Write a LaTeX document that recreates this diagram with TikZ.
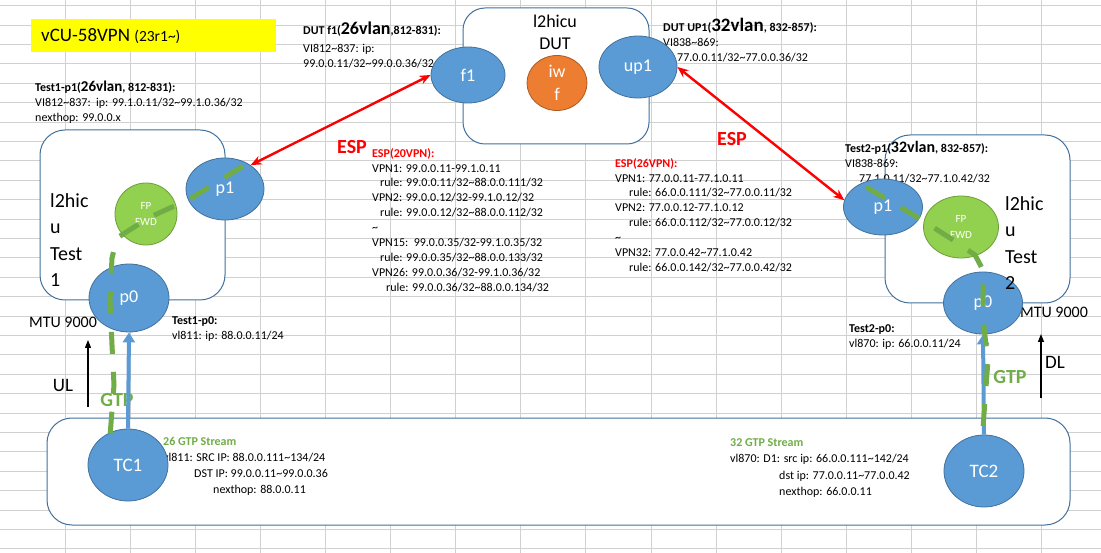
\documentclass[tikz,border=0pt]{standalone}
\usepackage{fontspec}
\setmainfont{Carlito}
\usetikzlibrary{shapes.geometric,arrows.meta}

\definecolor{gridgray}{HTML}{D0D0D0}
\definecolor{boxedge}{HTML}{41719C}
\definecolor{portblue}{HTML}{5B9BD5}
\definecolor{portedge}{HTML}{41719C}
\definecolor{fpgreen}{HTML}{92D050}
\definecolor{fpedge}{HTML}{6E9E3A}
\definecolor{iwforange}{HTML}{ED7D31}
\definecolor{iwfedge}{HTML}{AE5A21}
\definecolor{gtpgreen}{HTML}{70AD47}
\definecolor{espred}{HTML}{FF0000}
\definecolor{titleyellow}{HTML}{FFFF00}

\newcommand{\tlde}{\textasciitilde}
\newcommand{\fsz}[1]{\fontsize{#1}{#1}\selectfont}

\begin{document}
\begin{tikzpicture}[x=1pt,y=-1pt,
    gridline/.style={draw=gridgray,line width=0.9pt},
    groupbox/.style={draw=boxedge,fill=white,line width=1pt,rounded corners=25pt},
    port/.style={ellipse,draw=portedge,fill=portblue,text=white,line width=0.8pt,inner sep=0pt,font=\fsz{18}},
    fpfwd/.style={port,fill=fpgreen,draw=fpedge,align=center,font=\fontsize{11}{16}\selectfont},
    infotext/.style={anchor=north west,inner sep=0pt,align=left,font=\fontsize{12}{15}\selectfont},
    biglabel/.style={inner sep=0pt,font=\fsz{20}},
    esparrow/.style={draw=espred,line width=2.4pt,{Stealth[length=11pt,width=9pt]}-{Stealth[length=11pt,width=9pt]}},
    gtparrow/.style={draw=portblue,line width=4pt,-{Triangle[length=10pt,width=12pt]}},
    flowarrow/.style={draw=black,line width=1.3pt,-{Triangle[length=8pt,width=6pt]}},
    gtpdash/.style={draw=gtpgreen,line width=5pt,dash pattern=on 22pt off 18pt}]
  \useasboundingbox (0,0) rectangle (1101,553);
  \fill[white] (0,0) rectangle (1101,553);

  % sheet grid
  \foreach \c in {1,...,16}
    \draw[gridline] (65.1*\c,0) -- (65.1*\c,553);
  \foreach \r in {0,...,28}
    \draw[gridline] (0,5.6+19.4*\r) -- (1101,5.6+19.4*\r);

  % title
  \fill[titleyellow] (31,19) rectangle (276,52);
  \node[anchor=west,inner sep=0pt] (title) at (41,36) {\fsz{19}vCU-58VPN {\fsz{15.5}(23r1\tlde)}};

  % boxes
  \draw[groupbox,rounded corners=22pt] (463,8) rectangle (649,144); % DUT
  \draw[groupbox] (40,130) rectangle (225,300); % Test 1
  \draw[groupbox] (885,135) rectangle (1070,303); % Test 2
  \draw[groupbox] (47,418) rectangle (1070,525); % TC

  \node[anchor=north,inner sep=0pt,align=center,font=\fontsize{18}{22}\selectfont] (dutname) at (555,15) {l2hicu\\DUT};
  \node[biglabel,anchor=north west,align=left,font=\fontsize{20}{26.5}\selectfont] (t1name) at (50,193) {l2hic\\u\\Test\\1};

  % port texts
  \node[infotext] (t1p1info) at (35,80.5) {\textbf{Test1-p1(}{\fsz{15}\textbf{26vlan}}\textbf{, 812-831):}\\
    VI812\tlde837:\ \ ip: 99.1.0.11/32\tlde99.1.0.36/32\\
    nexthop: 99.0.0.x};
  \node[infotext] (f1info) at (303,21.5) {\textbf{DUT f1(}{\fsz{18}\textbf{26vlan}}\textbf{,812-831):}\\[3pt]
    VI812\tlde837: ip:\\
    99.0.0.11/32\tlde99.0.0.36/32};
  \node[infotext] (up1info) at (663,18) {\textbf{DUT UP1(}{\fsz{19}\textbf{32vlan}}\textbf{, 832-857):}\\
    VI838\tlde869:\\
    \hspace{14pt}77.0.0.11/32\tlde77.0.0.36/32};
  \node[infotext] (t2p1info) at (845,141) {\textbf{Test2-p1(}{\fsz{16}\textbf{32vlan}}\textbf{, 832-857):}\\
    VI838-869:\\
    \hspace{14pt}77.1.0.11/32\tlde77.1.0.42/32};
  \node[infotext] (t1p0info) at (172,316) {\textbf{Test1-p0:}\\vl811: ip: 88.0.0.11/24};
  \node[infotext] (t2p0info) at (849,324) {\textbf{Test2-p0:}\\vl870: ip: 66.0.0.11/24};

  % vpn lists
  \node[infotext,font=\fontsize{12}{14.9}\selectfont] (esp20) at (372,148) {{\color{espred}\textbf{ESP(20VPN):}}\\
    VPN1: 99.0.0.11-99.1.0.11\\
    \hspace{8pt}rule: 99.0.0.11/32\tlde88.0.0.111/32\\
    VPN2: 99.0.0.12/32-99.1.0.12/32\\
    \hspace{8pt}rule: 99.0.0.12/32\tlde88.0.0.112/32\\
    \tlde\\
    VPN15:\ \ 99.0.0.35/32-99.1.0.35/32\\
    \hspace{8pt}rule: 99.0.0.35/32\tlde88.0.0.133/32\\
    VPN26: 99.0.0.36/32-99.1.0.36/32\\
    \hspace{14pt}rule: 99.0.0.36/32\tlde88.0.0.134/32};
  \node[infotext,font=\fontsize{12}{14.9}\selectfont] (esp26) at (615,158) {{\color{espred}\textbf{ESP(26VPN):}}\\
    VPN1: 77.0.0.11-77.1.0.11\\
    \hspace{14pt}rule: 66.0.0.111/32\tlde77.0.0.11/32\\
    VPN2: 77.0.0.12-77.1.0.12\\
    \hspace{14pt}rule: 66.0.0.112/32\tlde77.0.0.12/32\\
    \tlde\\
    VPN32: 77.0.0.42\tlde77.1.0.42\\
    \hspace{14pt}rule: 66.0.0.142/32\tlde77.0.0.42/32};

  % streams
  \node[infotext,font=\fontsize{12}{16.2}\selectfont] (stream26) at (163,437) {{\color{gtpgreen}\textbf{26 GTP Stream}}\\
    vl811: SRC IP: 88.0.0.111\tlde134/24\\
    \hspace{31pt}DST IP: 99.0.0.11\tlde99.0.0.36\\
    \hspace{50pt}nexthop: 88.0.0.11};
  \node[infotext,font=\fontsize{12}{16.5}\selectfont] (stream32) at (730,438) {{\color{gtpgreen}\textbf{32 GTP Stream}}\\
    vl870: D1: src ip: 66.0.0.111\tlde142/24\\
    \hspace{49pt}dst ip: 77.0.0.11\tlde77.0.0.42\\
    \hspace{49pt}nexthop: 66.0.0.11};

  % side labels
  \node[inner sep=0pt,font=\fsz{16}] (mtu1) at (63,322) {MTU 9000};
  \node[inner sep=0pt,font=\fsz{16}] (mtu2) at (1054,312) {MTU 9000};
  \node[biglabel,font=\fsz{19}] (ul) at (63,385) {UL};
  \node[biglabel,font=\fsz{19}] (dl) at (1055,362) {DL};
  \node[biglabel,text=espred,font=\bfseries\fsz{20}] (esp1) at (352,147) {ESP};
  \node[biglabel,text=espred,font=\bfseries\fsz{20}] (esp2) at (732,139) {ESP};
  \node[biglabel,text=gtpgreen,font=\bfseries\fsz{20}] (gtp1) at (117,400) {GTP};
  \node[biglabel,text=gtpgreen,font=\bfseries\fsz{20}] (gtp2) at (1010,377) {GTP};

  % ports
  \node[port,minimum width=74pt,minimum height=56pt] (f1) at (468,75) {f1};
  \node[port,fill=iwforange,draw=iwfedge,align=center,font=\fontsize{18}{23}\selectfont,minimum width=60pt,minimum height=55pt] (iwf) at (557,83) {iw\\f};
  \node[port,minimum width=78pt,minimum height=62pt] (up1) at (638,67) {up1};
  \node[port,minimum width=78pt,minimum height=62pt] (t1p1) at (225,189) {p1};
  \node[fpfwd,minimum width=62pt,minimum height=62pt] (t1fp) at (146,214) {FP\\FWD};
  \node[port,minimum width=80pt,minimum height=68pt] (t1p0) at (129,298) {p0};
  \node[port,minimum width=79pt,minimum height=56pt] (t2p1) at (883,207) {p1};
  \node[fpfwd,minimum width=75pt,minimum height=62pt] (t2fp) at (961,227) {FP\\FWD};
  \node[port,minimum width=79pt,minimum height=62pt] (t2p0) at (983,303) {p0};
  \node[port,font=\fsz{19},minimum width=80pt,minimum height=72pt] (tc1) at (128,465) {TC1};
  \node[port,font=\fsz{19},minimum width=80pt,minimum height=72pt] (tc2) at (984,471) {TC2};

  \node[biglabel,anchor=north west,align=left,font=\fontsize{20}{26.5}\selectfont] (t2name) at (1005,196) {l2hic\\u\\Test\\2};

  % esp links
  \draw[esparrow] (t1p1.43) -- (f1.west);
  \draw[esparrow] (up1.east) -- (t2p1.170);

  % gtp links
  \draw[gtparrow] (tc1.north) -- (t1p0.south);
  \draw[gtparrow] (tc2.north) -- (t2p0.south);

  % direction arrows
  \coordinate (ulfoot) at (88,407);
  \coordinate (ulhead) at (88,340);
  \coordinate (dlfoot) at (1041,398);
  \coordinate (dlhead) at (1041,334);
  \draw[flowarrow] (ulfoot) -- (ulhead);
  \draw[flowarrow] (dlfoot) -- (dlhead);

  % gtp tunnel path
  \draw[gtpdash] (243,166) -- (190,199) -- (150,217) -- (117,238) -- (112,258) -- (110,300) -- (112,345) -- (114,385) -- (110,436);
  \draw[gtpdash] (866,187) -- (922,220) -- (953,240) -- (975,255) -- (983,270) -- (983,320) -- (988,360) -- (985,400) -- (982,442);
\end{tikzpicture}
\end{document}
